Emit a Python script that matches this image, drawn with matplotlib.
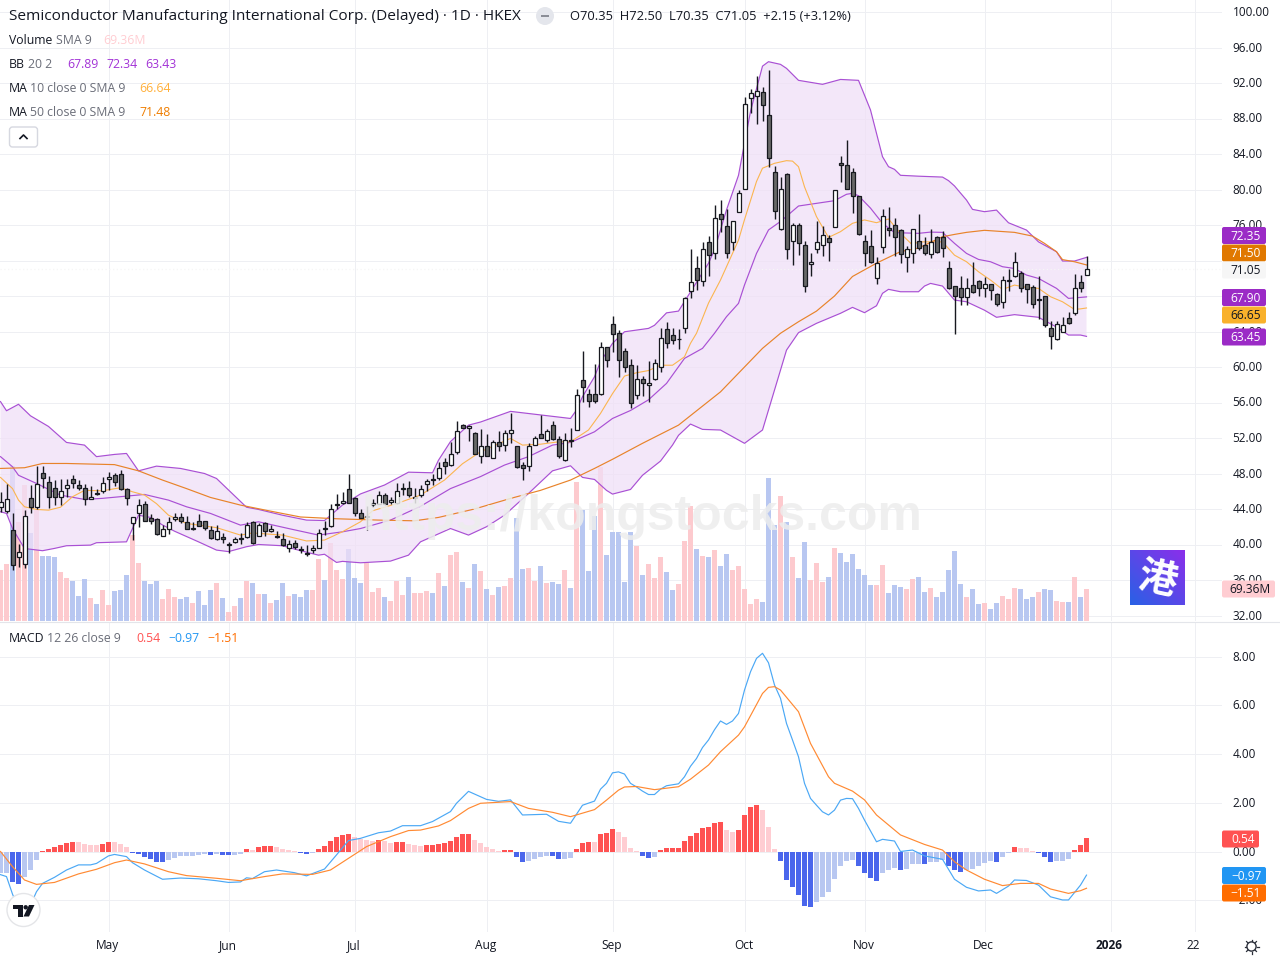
import matplotlib
matplotlib.use('Agg')
import matplotlib.pyplot as plt
import numpy as np
from matplotlib.patches import Circle, FancyBboxPatch, Polygon, Rectangle
from matplotlib.transforms import ScaledTranslation

plt.rcParams['font.family'] = ['Open Sans', 'DejaVu Sans']

# daily candles
opens = [44.25,43.8,41.6,38.6,37.75,45.2,44.25,48.1,47,46.4,45.4,46.4,47.4,46.65,46.4,45.1,45.85,46,47.4,47.8,
         47.9,46.2,42.45,43.6,44.6,43,42.9,41,41.8,42.9,43.05,42.5,41.8,42.7,42.6,41.6,40.65,40.9,40,40.3,
         40.7,40.8,42.5,41,42.4,41.5,41,40.6,39.65,40.2,39.45,39,39.35,39.6,41.85,42.1,44.45,44.7,46.3,45.2,
         43.5,43.1,44.4,44.6,45.6,44.8,44.7,46.2,46.4,45.2,45.6,46.8,47.4,47.5,49.25,49,50.4,53.5,53.1,52.6,
         50,51.15,49.8,51.6,51.25,52.6,51.05,49,48.9,51.25,52.5,51.75,53.5,51.85,49.5,51.8,52.85,58.5,57,57,
         57,62.2,64.8,63.8,61.85,60.2,56.8,58.7,58,58.7,60.05,64.25,63.65,63.1,64.35,68.55,71.1,69.7,74.05,72.8,
         77.2,75.85,74.05,77.5,80.1,90.35,90.5,90.95,88.35,81.95,75.5,81.8,74.15,75.95,73.7,71.55,73.25,73.8,74.5,75.75,
         82.95,82.8,81.95,79.25,74.15,73.6,70,73.55,75.7,75.95,75.4,72.45,72.8,74.2,73.8,72.7,74.6,74.6,71.1,69.1,
         68.85,67.85,69.2,69.65,68.85,69.3,68.2,67.3,69.7,70.2,70.55,69.3,69,67.6,67.95,64.45,63.1,64,65.5,66.05,
         69.55,70.35]
highs = [45.9,46.8,43.5,40.1,43.9,46.7,48.8,48.8,47.7,47.3,47.4,47.4,47.8,47.3,46.8,46.6,46.3,47.55,48.2,48.1,
         48.4,46.4,43.1,45.1,44.9,43.4,43,42.2,43.1,43.6,43.6,43.2,42.5,43.4,42.7,42.1,42.15,41.25,40.3,40.9,
         41.35,42.5,42.7,42.45,42.5,42.15,41.5,41.25,40.5,40.5,39.8,39.9,40,41.8,42.7,44.6,45.65,45.9,48,45.4,
         44,44.3,45.1,46,45.8,45.4,46.9,46.9,47.1,46.4,46.7,47.4,48,49.25,49.8,51.6,53.9,53.55,53.45,52.7,
         53,52.5,51.8,52.8,52.9,54.85,51.1,49.3,51.4,52.2,54.55,53,53.9,52.2,52.6,53.1,57.5,61.8,57.5,60.3,
         62.85,62.3,65.7,64.15,62.1,60.85,60.2,58.95,60.65,60.95,64.45,65.05,64.45,64.25,67.85,73.3,72.5,74.1,74.75,78.25,
         78.8,77.8,76.5,79.95,90.4,91.3,92.8,91.6,93.45,82.65,81.45,81.9,76.2,76.2,74.15,72.8,76.4,75.9,74.9,80,
         83.75,85.6,82.4,79.3,74.9,75.4,72.35,77.8,78,76.75,75.5,73.6,75.6,77.2,74.6,75.6,74.75,75.3,71.95,69.1,
         70.25,70,71.8,69.8,70.1,69.4,68.3,70.25,71,72.95,70.8,69.3,69.2,70.2,67.95,65.15,65.15,65.6,66.15,70.45,
         70.35,72.5]
lows = [43.7,43.5,37.1,37.5,37.3,43.6,44,46.4,44.1,44.4,44.5,45.4,46.4,46.1,44.4,45.1,45.55,45.85,46.1,46.6,
        46.1,44.4,40.5,42,42.7,42.3,41.1,41,41.2,42.6,42.4,41.7,41.6,42.1,41.6,40.6,40.5,40.2,39.05,40.2,
        40.1,40.7,40.1,40.95,41,41.4,40.7,39.8,39.2,39.45,39,38.7,39.05,39.55,41.05,42,44.05,44.6,44.7,43.2,
        43,41.6,44.25,44.55,44.4,44.6,44.6,45.6,45.3,44.7,45.3,46.05,46.7,47.25,48,48.9,50.25,53.1,51.7,50.15,
        49.2,50,49.8,50.55,50.55,51.4,48.65,47.3,48.3,51.2,51.95,51.6,51.75,49.8,49.4,51,52.85,56.1,55.5,55.9,
        56.8,60,61.7,58.85,59.45,55.4,56.4,56.7,56.1,58.5,59.45,62.15,62.55,62.05,63.8,67.8,68.7,69.1,70.25,72.2,
        75.25,72.3,73.2,77.5,80.1,88.65,87.4,87.75,82.55,76.7,75.4,72.15,71.5,72.65,68.5,70.3,72.9,72.55,72,75.75,
        80.9,80.1,77.4,74.85,71.4,71.75,69.35,72.9,74.75,72.5,71.7,70.75,71.75,73.15,72.6,72.3,72.8,72.4,68.75,63.75,
        67,67,68.3,68,67.9,67.6,66.9,66.7,68.6,70.1,68.5,67.25,66.7,65.4,64.55,62.05,63.05,63.9,64.9,65.9,
        68.4,70.35]
closes = [44.8,45.08,37.7,39.2,43.2,44.2,46.8,47.5,45.4,45.4,46,46.65,46.9,46.4,45.1,45.4,45.7,46.9,47.55,47,
          46.2,45.2,43.05,44.5,42.7,42.7,41.2,41.7,42.5,43.05,42.7,41.8,41.9,42.1,41.9,40.75,41.5,40.6,40.1,40.6,
          40.6,42.25,40.2,42.25,41.5,41.7,40.8,40,40.1,39.75,39.35,38.9,39.55,41.35,41.7,44.05,44.55,44.85,44.7,43.6,
          43,43.2,44.7,45.6,44.6,45,46,46.4,45.6,45.3,46.3,47.1,47.3,48.6,48.8,50.25,52.75,53.1,53.4,50.2,
          51.15,50,51.5,51.05,52.6,52.95,48.7,48.65,51.15,52.05,52.05,52.75,51.85,50,51.75,51.65,56.9,57.75,56.2,56.2,
          62.3,60.75,63.7,60.75,60.05,56,58.7,58.15,58.25,60.4,63.3,62.75,63,63.2,67.75,69.55,69.75,73.35,72.6,76.75,
          76.7,72.9,76.5,79.55,89.6,90.85,91.05,89.5,83.5,77.55,80.1,73.35,75.95,73.95,69.1,71.8,74.05,74.85,74.05,80,
          82.8,80.1,79.25,74.95,72.8,71.85,71.7,77,75.4,74.7,72.7,73.25,75.6,73.45,72.85,74.05,73,73.45,68.85,68.05,
          67.9,68.85,68.4,68.85,69.4,68.65,67.15,69.75,69.8,71.8,68.85,68.75,67.15,67.7,64.7,63.45,64.8,64.7,65,68.85,
          68.85,71.05]

# volume in millions of shares
volume = [110.5,123.5,336,214.6,295,191,240,141,141,139,106,93,87,54,91,50,37,67,35,65,
          67,100,186,126,87,80,87,48,69,52,48,52,39,65,35,67,82,50,20,33,
          50,87,82,59,59,39,46,82,54,59,52,67,67,134,89,169,110,91,156,93,
          82,128,63,71.5,52,43,87,56,95,61,61,65,61,104,76,143,150,85,71.5,123.5,
          108,69,56,74,76,93,222.5,113,115,87,119,82,85,80,110,71.5,301,240.6,108,227.6,
          334,143,193,193,85,193,162.6,100,123.5,93,139,106,67,80,173,249,156,141,139,154,
          119,145,110,119,69,37,48,41,310,208,271,215,139,93,171,89,126,85,95,158,
          147,128,145,113,100,78,78,121,61,78,74,69,91,95,63,71.5,52,63,110.5,152,
          80,52,69,37,39,26,39,54,48,71.5,69,48,52,63,69,67,43,41,41,95,
          52,69.36]

# MACD histogram
macd_hist = [-0.90,-0.88,-1.26,-1.34,-1.05,-0.77,-0.35,0.02,0.10,0.18,0.26,0.35,0.39,0.38,0.31,0.26,0.25,0.31,0.39,0.38,
             0.31,0.18,-0.08,-0.11,-0.23,-0.32,-0.43,-0.44,-0.35,-0.27,-0.19,-0.18,-0.17,-0.15,-0.11,-0.15,-0.11,-0.15,-0.16,-0.15,
             -0.11,0.10,0.06,0.18,0.22,0.23,0.18,0.10,0.06,0.03,-0.08,-0.11,-0.08,0.10,0.22,0.43,0.59,0.67,0.71,0.59,
             0.51,0.47,0.43,0.47,0.43,0.35,0.39,0.40,0.31,0.27,0.23,0.27,0.28,0.31,0.35,0.43,0.60,0.72,0.73,0.47,
             0.35,0.18,0.10,0.03,0.06,0.07,-0.23,-0.43,-0.39,-0.31,-0.23,-0.18,-0.19,-0.31,-0.30,-0.27,0.10,0.35,0.39,0.38,
             0.72,0.76,0.92,0.80,0.60,0.14,0.02,-0.18,-0.27,-0.23,0.06,0.14,0.15,0.16,0.43,0.64,0.76,0.97,1.01,1.17,
             1.21,0.88,0.80,0.88,1.50,1.83,1.91,1.70,1.01,0.10,-0.39,-1.17,-1.46,-1.79,-2.24,-2.28,-2.08,-1.87,-1.66,-1.13,
             -0.60,-0.39,-0.35,-0.60,-0.88,-1.09,-1.21,-0.88,-0.76,-0.68,-0.76,-0.72,-0.51,-0.50,-0.52,-0.43,-0.42,-0.35,-0.60,-0.76,
             -0.84,-0.76,-0.72,-0.60,-0.47,-0.39,-0.43,-0.23,-0.06,0.18,0.14,0.13,0.02,-0.06,-0.23,-0.43,-0.39,-0.38,-0.31,0.06,
             0.27,0.54]

# indicator lines, given at the days listed next to them
bb_upper_days = [0,1,3,5,8,11,14,16,19,21,23,26,30,34,36,41,43,47,51,54,57,60,64,68,72,73,75,78,80,85,90,95,96,97,99,100,
                 102,104,108,109,111,113,118,119,121,123,124,125,127,128,130,131,133,137,140,143,145,147,148,149,150,153,
                 157,158,159,160,161,162,164,166,168,171,173,176,177,179,181]
bb_upper = [56.1,55.07,55.8,54.5,53.3,51.5,51.2,49.9,50.15,50.26,48.3,48.83,48.57,48,47.44,44.2,43.95,43.3,42.75,42.7,44.45,45.7,46.7,48.15,48.08,49.5,
            51.6,53.45,53.8,55,54.6,54.2,55.15,56.65,58.9,60.6,62.66,63.97,64.35,64.7,66.1,66.3,71.7,73.2,77.7,81.6,85.2,88.8,93.9,94.4,94.1,93.65,
            92.3,91.85,92.4,92.3,88.96,83.7,82.57,82.27,81.6,81.5,81.4,81,80.4,79.6,78.81,77.76,77.5,77.68,76.25,75.43,74.1,72.99,71.94,71.94,72.35]
bb_mid_days = [0,2,3,6,10,14,17,21,24,28,31,35,40,43,48,53,57,60,65,70,75,80,84,88,92,95,99,102,105,108,111,114,117,119,121,123,124,126,128,
               130,133,136,139,141,142,143,145,147,149,153,155,157,159,161,163,165,167,169,171,173,176,178,180,181]
bb_mid = [49.9,48.76,47.8,46.88,45.56,45.08,45.2,45.45,45.64,45,44.25,43.5,42.18,42.56,41.8,41.06,41.43,41.8,42.75,44.3,46.3,47.65,48.95,49.9,51.2,51.5,52.7,54.2,55.1,56.3,58.15,60.97,62.1,63.8,65.67,67.17,69.24,72.8,75.44,
          76.4,78.14,78.44,78.74,79.46,79.57,79.3,77.9,76.19,75.14,75.06,75.2,75.17,73.93,72.8,72.12,71.86,71.3,71.1,70.36,69.98,68.86,67.73,67.84,67.9]
bb_lower_days = [0,1,2,4,7,9,11,15,16,21,22,23,25,27,29,33,36,38,41,43,47,50,53,54,56,57,60,65,68,70,75,78,81,84,88,92,95,97,99,101,102,105,107,110,112,113,115,117,
                 120,124,127,131,133,136,140,142,144,146,147,148,150,153,154,155,157,159,161,164,166,169,173,176,178,180,181]
bb_lower = [43.69,43.5,41.8,39.55,39.3,39.56,39.86,39.93,40.2,40.3,41.8,43.3,43.05,42.2,41.5,40.3,39.37,39.2,39.75,40,39.86,39.3,38.8,38.9,37.98,38.1,37.94,38.13,38.8,40.3,41.8,41.06,42,43.3,45.75,48.3,48.87,47.56,47.33,46.1,45.68,46.2,47.8,49.4,51.2,52.3,53.57,52.97,
            52.9,51.4,52.9,61.9,63.87,64.92,66.05,66.72,66.12,66.9,68.3,68.75,68.48,68.48,69.12,69.42,69.12,67.54,67.35,66.4,65.6,65.9,65.6,64.5,63.6,63.6,63.45]
ma10_days = [0,2,3,4,6,8,10,12,14,17,20,22,24,26,28,31,36,40,42,47,51,54,57,60,62,66,70,74,77,80,85,87,90,93,95,98,99,100,102,104,106,108,110,112,114,115,116,118,120,122,123,124,126,127,
             129,131,132,133,134,136,138,140,142,144,146,148,150,152,153,157,159,161,163,165,167,169,171,173,175,177,179,180,181]
ma10 = [47.56,46.3,45,44.25,43.95,43.87,44.2,45.38,46.1,46.05,46.4,45.94,45.57,44.6,43.3,42.37,41.9,41.06,41.3,41.06,40.4,40.5,41.44,42.56,43.8,44.6,45.57,47.26,49.1,50.45,51.95,51.2,51.3,51.57,51.57,52.9,53.83,54.77,57,58.98,59.35,59.6,60.2,60.2,61.15,62.67,63.8,67.2,69.8,72.8,74.3,76.6,80.9,82.4,
        82.95,83.25,83.2,82.57,80.3,76.94,74.6,75.25,76.19,76.57,76.26,76.68,75.06,73.75,74.1,74.1,72.6,71.86,70.73,69.8,68.74,69.23,68.97,68.86,67.92,67.35,66.49,66.55,66.65]
ma50_days = [0,4,7,11,19,23,27,31,35,40,45,50,56,63,69,73,79,85,90,95,99,102,107,113,120,127,130,133,136,139,142,146,150,153,157,159,161,164,169,172,174,176,177,179,181]
ma50 = [48.57,48.65,49.13,49.13,49,48.3,47.26,46.3,45.3,44.44,43.76,43.1,42.9,42.75,42.67,43.05,44,45.19,46.1,47.26,48.57,49.6,51.4,53.45,57.2,62.1,63.8,65.1,66.3,68,70.2,71.7,73,73.4,74.68,74.94,75.17,75.4,75.17,74.75,73.93,72.99,72.1,71.86,71.5]

macd_days = [0,1,2,3,4,5,6,7,9,11,13,15,16,18,19,21,22,24,27,30,33,36,38,40,41,42,44,46,49,51,54,56,58,60,63,65,67,70,72,75,76,78,79,81,83,85,87,91,93,95,
             97,99,100,101,102,103,104,105,106,107,108,109,110,111,113,114,115,116,117,118,119,120,121,122,123,124,125,126,127,128,129,130,131,132,133,134,135,136,137,138,139,140,141,142,143,144,146,147,149,150,152,154,157,159,161,163,165,166,168,169,171,173,175,177,178,180,181]
macd_line = [-0.95,-1.03,-1.75,-2.35,-2.55,-2.2,-1.65,-1.31,-1.06,-0.76,-0.55,-0.55,-0.49,-0.18,-0.12,-0.21,-0.46,-0.76,-1.14,-1.09,-1.12,-1.2,-1.27,-1.25,-1.08,-1.11,-0.83,-0.76,-0.87,-1.0,-0.72,-0.14,0.45,0.54,0.77,0.84,1.06,1.06,1.23,1.64,1.98,2.47,2.36,2.14,2.06,2.12,1.5,1.53,1.24,1.16,
             1.9,2.07,2.56,2.8,3.23,3.27,3.18,2.8,2.65,2.48,2.34,2.34,2.56,2.7,2.78,3.07,3.5,3.82,4.27,4.58,5.0,5.36,5.22,5.36,5.67,6.63,7.38,7.93,8.14,7.75,6.84,6.29,5.26,4.58,3.89,2.8,2.18,1.9,1.63,1.5,1.7,2.11,2.18,2.17,1.77,1.29,0.4,0.5,0.43,0.0,0.06,-0.18,-0.32,-1.14,-1.47,-1.62,-1.58,-1.72,-1.42,-1.17,-1.19,-1.38,-1.86,-1.99,-1.99,-1.38,-0.97]
signal_days = [0,2,4,6,9,13,16,19,21,24,28,31,36,40,44,47,52,55,58,61,65,68,70,73,75,78,80,85,88,92,95,99,101,103,104,106,109,113,115,118,120,123,124,127,128,129,130,133,135,138,139,142,144,146,150,154,157,159,161,164,167,170,173,175,178,180,181]
signal_line = [0.0,-0.62,-1.17,-1.35,-1.27,-0.92,-0.73,-0.46,-0.35,-0.51,-0.83,-0.99,-1.1,-1.2,-1.03,-0.92,-0.94,-0.76,-0.28,0.2,0.61,0.86,0.88,1.05,1.27,1.77,1.98,2.05,1.77,1.61,1.43,1.72,2.11,2.52,2.65,2.67,2.54,2.66,2.97,3.55,4.1,4.78,5.12,6.49,6.74,6.77,6.63,5.74,4.44,3.07,2.8,2.48,2.12,1.5,0.68,0.29,0.06,-0.42,-0.76,-1.14,-1.4,-1.31,-1.31,-1.54,-1.72,-1.61,-1.51]

month_days = [18,38,59,81,102,124,144,164,185,199]
month_labels = ['May','Jun','Jul','Aug','Sep','Oct','Nov','Dec','2026','22']
price_ticks = list(range(32, 101, 4))
macd_ticks = [-2, 0, 2, 4, 6, 8]

GRID = '#EEEFF3'
TEXT = '#131722'
GREY = '#6A6D78'
UP_VOL = '#FDCACE'
DOWN_VOL = '#B8C7F1'
BB_LINE = '#A950D4'
BB_FILL = '#F0DFF7'
MA10_C = '#FBB550'
MA50_C = '#E8832A'

W, H = 1280, 960
PANE_W = 1222
# half a pixel left so that 5 px bars fall on whole pixels
X_LEFT = -0.5 / 6
X_RIGHT = X_LEFT + PANE_W / 6
PX_PER_UNIT = 8.875
MACD_PX = 24.35

fig = plt.figure(figsize=(12.8, 9.6), dpi=100, facecolor='white')
one_px_up = ScaledTranslation(0, 1 / 100, fig.dpi_scale_trans)
one_px_left = ScaledTranslation(-1 / 100, 0, fig.dpi_scale_trans)


def rect(top, bottom):
    return [0, 1 - bottom / H, PANE_W / W, (bottom - top) / H]


main_rect = rect(0, 621)
main_ylim = (100 - (621 - 12) / PX_PER_UNIT, 100 + 12 / PX_PER_UNIT)

# back layer: grid and price scale
ax = fig.add_axes(main_rect, zorder=0)
ax.set_xlim(X_LEFT, X_RIGHT)
ax.set_ylim(*main_ylim)
ax.set_yticks(price_ticks)
# 68 and 72 sit fully under the price tags
ax.set_yticklabels(['' if t in (68, 72) else f'{t:.2f}' for t in price_ticks])
ax.set_xticks(month_days)
ax.set_xticklabels([])
ax.yaxis.tick_right()
ax.tick_params(axis='both', length=0, labelsize=8.5, labelcolor=TEXT, pad=7.5)
ax.grid(True, color=GRID, lw=0.72)
for s in ax.spines.values():
    s.set_visible(False)
for lbl in ax.get_yticklabels():
    lbl.set_transform(lbl.get_transform() + one_px_up)

# volume layer
ax_vol = fig.add_axes(main_rect, zorder=1)
ax_vol.patch.set_visible(False)
ax_vol.set_xlim(X_LEFT, X_RIGHT)
ax_vol.set_ylim(0, 621 * 2.1675)
ax_vol.axis('off')
days = np.arange(len(closes))
up = np.array(closes) >= np.array(opens)
ax_vol.bar(days, volume, width=5 / 6, color=[UP_VOL if u else DOWN_VOL for u in up], lw=0)

# price layer
ax_p = fig.add_axes(main_rect, zorder=2)
ax_p.patch.set_visible(False)
ax_p.set_xlim(X_LEFT, X_RIGHT)
ax_p.set_ylim(*main_ylim)
ax_p.axis('off')

band_x = bb_upper_days + bb_lower_days[::-1]
band_y = bb_upper + bb_lower[::-1]
ax_p.fill(band_x, band_y, color=BB_FILL, alpha=0.75, lw=0, zorder=1)
ax_p.axhline(closes[-1], color='#F6F6F6', lw=0.9, ls=(0, (1, 2)), zorder=1.5)
ax_p.plot(bb_upper_days, bb_upper, color=BB_LINE, lw=0.85, zorder=2)
ax_p.plot(bb_mid_days, bb_mid, color=BB_LINE, lw=0.85, zorder=2)
ax_p.plot(bb_lower_days, bb_lower, color=BB_LINE, lw=0.85, zorder=2)
ax_p.plot(ma10_days, ma10, color=MA10_C, lw=0.8, zorder=2)
ax_p.plot(ma50_days, ma50, color=MA50_C, lw=0.85, zorder=2)

ax_p.vlines(days, lows, highs, color='#17191F', lw=1.0, zorder=3)
body_low = np.minimum(opens, closes)
body_h = np.abs(np.array(closes) - np.array(opens))
ax_p.bar(days, body_h, bottom=body_low, width=4 / 6, color=['white' if u else '#686868' for u in up],
         edgecolor='#17191F', lw=0.9, zorder=4)

# MACD pane
ax_m = fig.add_axes(rect(622, 932), zorder=1)
ax_m.set_xlim(X_LEFT, X_RIGHT)
ax_m.set_ylim((851.5 - 932) / MACD_PX, (851.5 - 622) / MACD_PX)
ax_m.set_yticks(macd_ticks)
ax_m.set_yticklabels([('\u2212' if t < 0 else '') + f'{abs(t):.2f}' for t in macd_ticks])
ax_m.set_xticks(month_days)
ax_m.set_xticklabels(month_labels)
ax_m.get_xticklabels()[8].set_fontweight('bold')
ax_m.yaxis.tick_right()
ax_m.tick_params(axis='y', length=0, labelsize=8.5, labelcolor=TEXT, pad=7.5)
ax_m.tick_params(axis='x', length=0, labelsize=8.6, labelcolor=TEXT, pad=5.2)
ax_m.grid(True, color=GRID, lw=0.72)
ax_m.set_axisbelow(True)
for s in ax_m.spines.values():
    s.set_visible(False)
for lbl in ax_m.get_yticklabels():
    lbl.set_transform(lbl.get_transform() + one_px_up)
for lbl in ax_m.get_xticklabels():
    lbl.set_transform(lbl.get_transform() + one_px_left)

hist_colors = []
for i, v in enumerate(macd_hist):
    prev = macd_hist[i - 1] if i else v
    if v >= 0:
        hist_colors.append('#FF5252' if v >= prev else '#FFCDD2')
    else:
        hist_colors.append('#4A66EC' if v < prev else '#B8C7F1')
ax_m.bar(days, macd_hist, width=5 / 6, color=hist_colors, lw=0)
ax_m.plot(macd_days, macd_line, color='#4BA8F5', lw=0.85)
ax_m.plot(signal_days, signal_line, color='#FF8A33', lw=0.85)

# overlay in pixel coordinates: legend, tags, logos
ov = fig.add_axes([0, 0, 1, 1], zorder=5)
ov.set_xlim(0, W)
ov.set_ylim(H, 0)
ov.axis('off')
ov.patch.set_visible(False)

# separator between panes
ov.plot([0, W], [622, 622], color='#E3E5EA', lw=0.8)

ov.text(642, 530, 'https://kongstocks.com', fontsize=36, fontweight='bold', family='Liberation Sans',
        color='#EDEDED', alpha=0.85, ha='center', va='baseline', zorder=1)


def tag(y, txt, bg, fg='white', x1=1266, xt=1246):
    ov.add_patch(FancyBboxPatch((1222, y - 8.5), x1 - 1222, 17, boxstyle='round,pad=0,rounding_size=2',
                                fc=bg, ec='none', zorder=3))
    ov.text(xt, y + 0.8, txt, color=fg, fontsize=8.6, ha='center', va='center', zorder=4)


tag(235.5, '72.35', '#9B2BC6')
tag(253, '71.50', '#E07800')
tag(270, '71.05', '#F6F6F6', TEXT)
tag(297.5, '67.90', '#9B2BC6')
tag(315, '66.65', '#F9B12B', TEXT)
tag(337, '63.45', '#9B2BC6')
tag(589, '69.36M', '#FFCDD2', TEXT, x1=1275, xt=1250)
tag(839, '0.54', '#FF5252', x1=1259, xt=1243)
tag(875.5, '\u22120.97', '#2196F3')
tag(893, '\u22121.51', '#FF6D00')


def legend_row(y, parts):
    for x, txt, col in parts:
        ov.text(x, y, txt, color=col, fontsize=8.8, va='center', ha='left')


ov.text(9, 17, 'Semiconductor Manufacturing International Corp. (Delayed) \u00b7 1D \u00b7 HKEX',
        color=TEXT, fontsize=11.1, va='center')
ov.text(570, 17, 'O70.35  H72.50  L70.35  C71.05  +2.15 (+3.12%)', color=TEXT, fontsize=9.25, va='center')
ov.add_patch(Circle((545, 16), 9, fc='#E4E6EC', ec='none'))
ov.add_patch(Rectangle((541, 15), 8, 2, fc='#8A8D96', ec='none'))

legend_row(41, [(9, 'Volume', TEXT), (56, 'SMA 9', GREY), (103, '69.36M', '#FFCDD2')])
legend_row(65, [(9, 'BB', TEXT), (28, '20 2', GREY), (67, '67.89', '#A232D6'), (106, '72.34', '#A232D6'), (145, '63.43', '#A232D6')])
legend_row(89, [(9, 'MA', TEXT), (30, '10 close 0 SMA 9', GREY), (139, '66.64', '#FFB03B')])
legend_row(113, [(9, 'MA', TEXT), (30, '50 close 0 SMA 9', GREY), (139, '71.48', '#EF7D00')])
legend_row(639, [(9, 'MACD', TEXT), (47, '12 26 close 9', GREY), (136, '0.54', '#FF5252'),
                 (168, '\u22120.97', '#2196F3'), (207, '\u22121.51', '#FF6D00')])

# collapse button
ov.add_patch(FancyBboxPatch((9.5, 127), 28, 20, boxstyle='round,pad=0,rounding_size=3', fc='white', ec='#D6D8E0', lw=1))
ov.plot([20, 23.5, 27], [138.5, 135, 138.5], color=TEXT, lw=1.2)

# TradingView badge
ov.add_patch(Circle((23.5, 910), 16.5, fc='white', ec='#E4E5E8', lw=1, zorder=2))
ov.add_patch(Polygon([(13, 905), (23, 905), (23, 916.5), (18, 916.5), (18, 909), (13, 909)], fc=TEXT, ec='none', zorder=3))
ov.add_patch(Circle((25.7, 907.3), 2.2, fc=TEXT, ec='none', zorder=3))
ov.add_patch(Polygon([(29, 905), (34.5, 905), (29, 916.5), (23.5, 916.5)], fc=TEXT, ec='none', zorder=3))

# site badge with a gradient
ax_logo = fig.add_axes([1130 / W, 1 - 605 / H, 55 / W, 55 / H], zorder=4)
gx, gy = np.meshgrid(np.linspace(0, 1, 55), np.linspace(0, 1, 55))
mix = ((gx + (1 - gy)) / 2)[..., None]
ax_logo.imshow(mix * np.array([0.55, 0.18, 0.92]) + (1 - mix) * np.array([0.16, 0.38, 0.90]), aspect='auto')
ax_logo.axis('off')
ax_logo.text(0.5, 0.46, '\u6e2f', transform=ax_logo.transAxes, color='white', fontsize=28, fontweight='bold',
             family='Noto Sans CJK SC', ha='center', va='center', rotation=-12)

# settings icon
ov.add_patch(Circle((1251.5, 946.5), 4.6, fc='white', ec='#2A2E39', lw=1))
for a in np.arange(0, 360, 45):
    ca, sa = np.cos(np.radians(a)), np.sin(np.radians(a))
    ov.plot([1251.5 + 5.4 * ca, 1251.5 + 7 * ca], [946.5 + 5.4 * sa, 946.5 + 7 * sa], color='#2A2E39', lw=0.9)

fig.savefig('out.png', dpi=100)
